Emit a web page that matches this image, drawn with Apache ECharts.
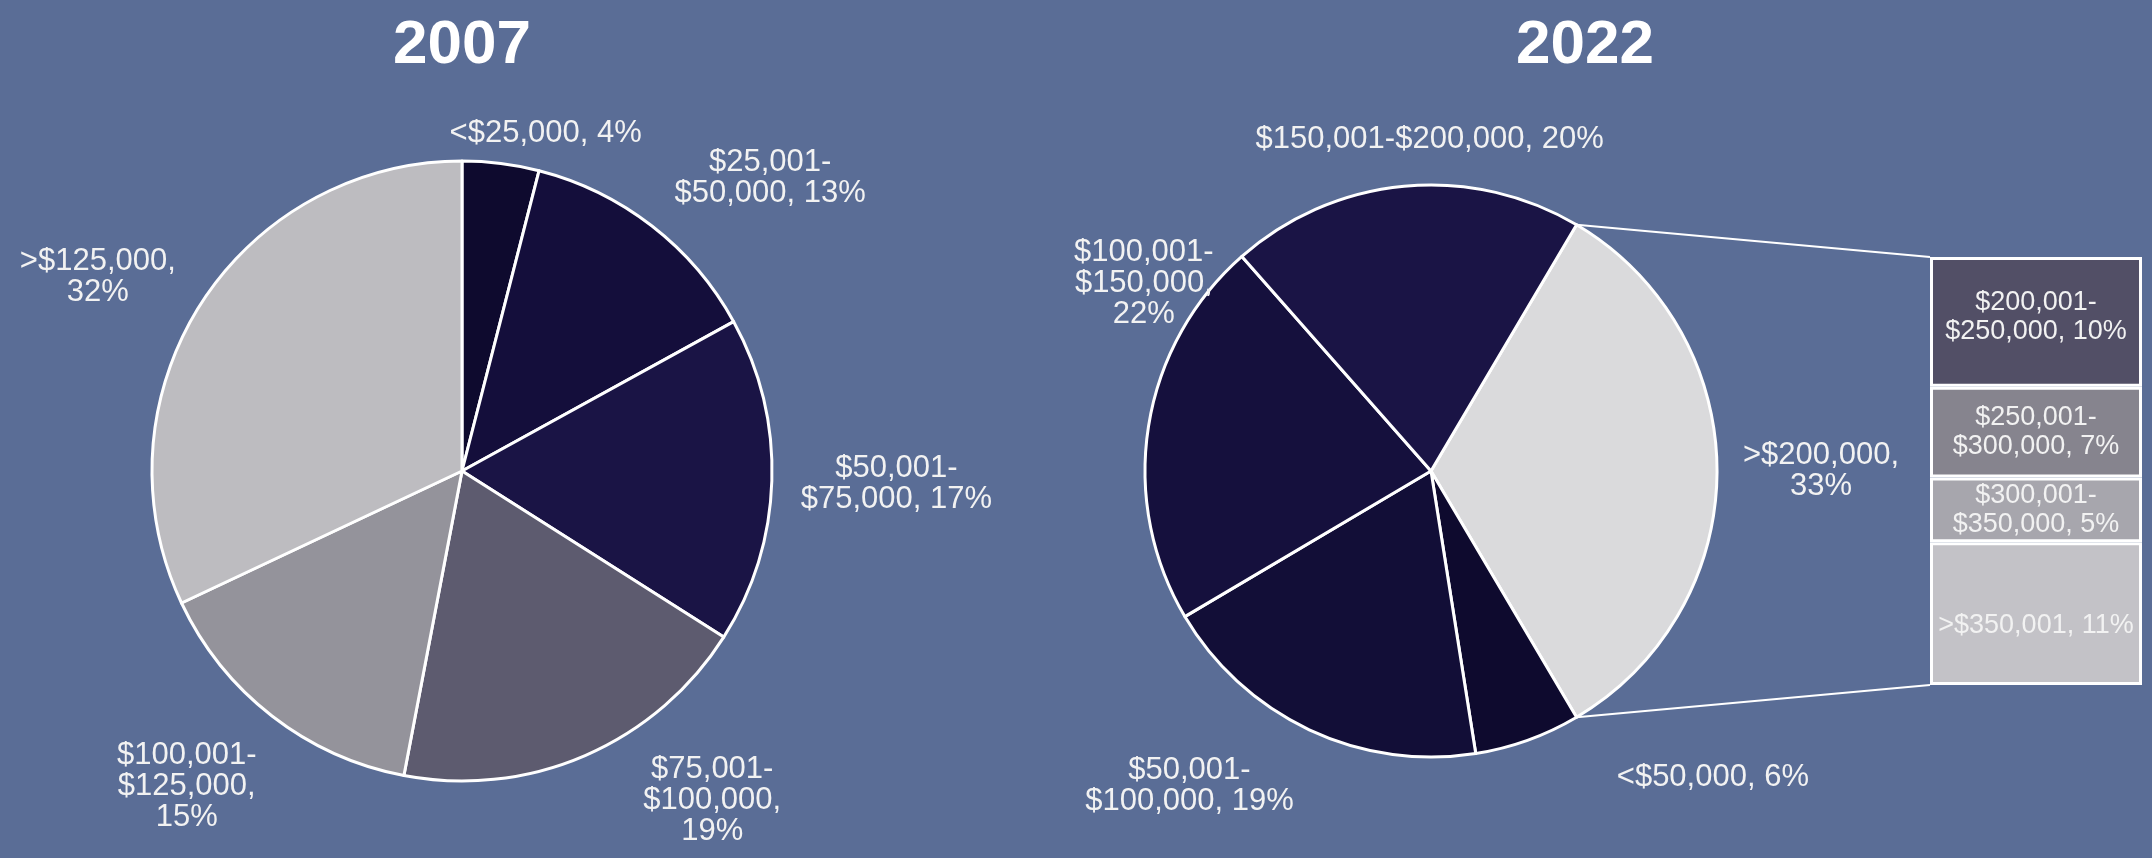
<!DOCTYPE html>
<html>
<head>
<meta charset="utf-8">
<style>
  html, body { margin: 0; padding: 0; background: #5a6d96; }
  #main { width: 2152px; height: 858px; }
</style>
<script src="https://cdn.jsdelivr.net/npm/echarts@6/dist/echarts.min.js"></script>
</head>
<body>
<div id="main"></div>
<script>
// data
const names2007 = ['<$25,000', '$25,001-$50,000', '$50,001-$75,000', '$75,001-$100,000', '$100,001-$125,000', '>$125,000'];
const shares2007 = [4, 13, 17, 19, 15, 32];
const names2022 = ['>$200,000', '<$50,000', '$50,001-$100,000', '$100,001-$150,000', '$150,001-$200,000'];
const shares2022 = [33, 6, 19, 22, 20];
const namesSplit = ['$200,001-$250,000', '$250,001-$300,000', '$300,001-$350,000', '>$350,001'];
const sharesSplit = [10, 7, 5, 11];

// styling / layout
const colors2007 = ['#0e0a2e', '#140e3b', '#1a1445', '#5d5b6f', '#94939b', '#bdbcc0'];
const colors2022 = ['#dadadc', '#0e0a2e', '#120e37', '#15103d', '#1a1445'];
const colorsSplit = ['#524f66', '#86848e', '#a7a6ad', '#c3c2c7'];
// h = break after the range hyphen, c = break before the percentage
const wrap2007 = ['', 'h', 'h', 'hc', 'hc', 'c'];
const wrap2022 = ['c', '', 'h', 'hc', ''];
const wrapSplit = ['h', 'h', 'h', ''];
const nudge2007 = [[30, 7], [46, -6], [7, 2], [91, -18], [-29, 16], [-18, 0]];
const nudge2022 = [[4, 0], [145, 2], [-66, 8], [86, -132], [44, -9]];
const shiftSplit = [-5, 0, 0, 12];

const FONT = "'Liberation Sans', Arial, sans-serif";
const pieA = { cx: 462, cy: 471, r: 310, start: 90 };
const pieB = { cx: 1431, cy: 471, r: 286, start: shares2022[0] / 100 * 180 };
const box = { left: 1930, top: 257, width: 212, height: 428 };

function labelText (name, v, mode) {
  let n = mode.indexOf('h') >= 0 ? name.replace('-', '-\n') : name;
  return n + (mode.indexOf('c') >= 0 ? ',\n' : ', ') + v + '%';
}

function labelPlacer (shares, pie, nudges) {
  const total = shares.reduce((a, b) => a + b, 0);
  const gap = 22;
  return function (params) {
    const i = params.dataIndex;
    let cum = 0;
    for (let k = 0; k < i; k++) cum += shares[k];
    const a = (pie.start - (cum + shares[i] / 2) / total * 360) * Math.PI / 180;
    const dx = Math.cos(a);
    const dy = -Math.sin(a);
    const w = params.labelRect.width;
    const h = params.labelRect.height;
    return {
      x: pie.cx + dx * (pie.r + gap) + dx * w / 2 + nudges[i][0],
      y: pie.cy + dy * (pie.r + gap) + dy * h / 2 + nudges[i][1],
      align: 'center',
      verticalAlign: 'middle'
    };
  };
}

function pieSeries (names, shares, colors, wraps, pie, nudges) {
  return {
    type: 'pie',
    center: [pie.cx, pie.cy],
    radius: pie.r,
    startAngle: pie.start,
    clockwise: true,
    avoidLabelOverlap: false,
    itemStyle: { borderColor: '#ffffff', borderWidth: 3 },
    label: {
      show: true,
      position: 'outside',
      color: '#f2f2f2',
      fontFamily: FONT,
      fontSize: 31,
      lineHeight: 31,
      formatter: function (p) {
        return labelText(p.name, p.value, wraps[p.dataIndex]);
      }
    },
    labelLine: { show: false },
    labelLayout: labelPlacer(shares, pie, nudges),
    emphasis: { disabled: true },
    data: names.map(function (n, i) {
      return { name: n, value: shares[i], itemStyle: { color: colors[i] } };
    })
  };
}

// stacked bar, bottom segment first
let barSeries = [];
for (let i = namesSplit.length - 1; i >= 0; i--) {
  barSeries.push({
    type: 'bar',
    name: namesSplit[i],
    stack: 'split',
    barWidth: '100%',
    itemStyle: { color: colorsSplit[i], borderColor: '#ffffff', borderWidth: 3 },
    label: {
      show: true,
      position: 'inside',
      offset: [0, shiftSplit[i]],
      color: '#f2f2f2',
      fontFamily: FONT,
      fontSize: 27,
      lineHeight: 29,
      formatter: labelText(namesSplit[i], sharesSplit[i], wrapSplit[i])
    },
    emphasis: { disabled: true },
    data: [sharesSplit[i]]
  });
}

const splitTotal = sharesSplit.reduce((a, b) => a + b, 0);
const edgeRad = pieB.start * Math.PI / 180;
const edgeTop = [pieB.cx + pieB.r * Math.cos(edgeRad), pieB.cy - pieB.r * Math.sin(edgeRad)];
const edgeBottom = [pieB.cx + pieB.r * Math.cos(edgeRad), pieB.cy + pieB.r * Math.sin(edgeRad)];

const myChart = echarts.init(document.getElementById('main'));
myChart.setOption({
  backgroundColor: '#5a6d96',
  animation: false,
  grid: { left: box.left, top: box.top, width: box.width, height: box.height },
  xAxis: { type: 'category', show: false, data: ['split'] },
  yAxis: { type: 'value', show: false, min: 0, max: splitTotal },
  graphic: [
    {
      type: 'text', x: pieA.cx, y: 46,
      style: { text: '2007', fill: '#ffffff', font: 'bold 62px ' + FONT, align: 'center', verticalAlign: 'middle' }
    },
    {
      type: 'text', x: 1585, y: 46,
      style: { text: '2022', fill: '#ffffff', font: 'bold 62px ' + FONT, align: 'center', verticalAlign: 'middle' }
    },
    {
      type: 'line', z: 10,
      shape: { x1: edgeTop[0], y1: edgeTop[1], x2: box.left, y2: box.top },
      style: { stroke: '#ffffff', lineWidth: 2 }
    },
    {
      type: 'line', z: 10,
      shape: { x1: edgeBottom[0], y1: edgeBottom[1], x2: box.left, y2: box.top + box.height },
      style: { stroke: '#ffffff', lineWidth: 2 }
    }
  ],
  series: [
    pieSeries(names2007, shares2007, colors2007, wrap2007, pieA, nudge2007),
    pieSeries(names2022, shares2022, colors2022, wrap2022, pieB, nudge2022)
  ].concat(barSeries)
});
</script>
</body>
</html>
